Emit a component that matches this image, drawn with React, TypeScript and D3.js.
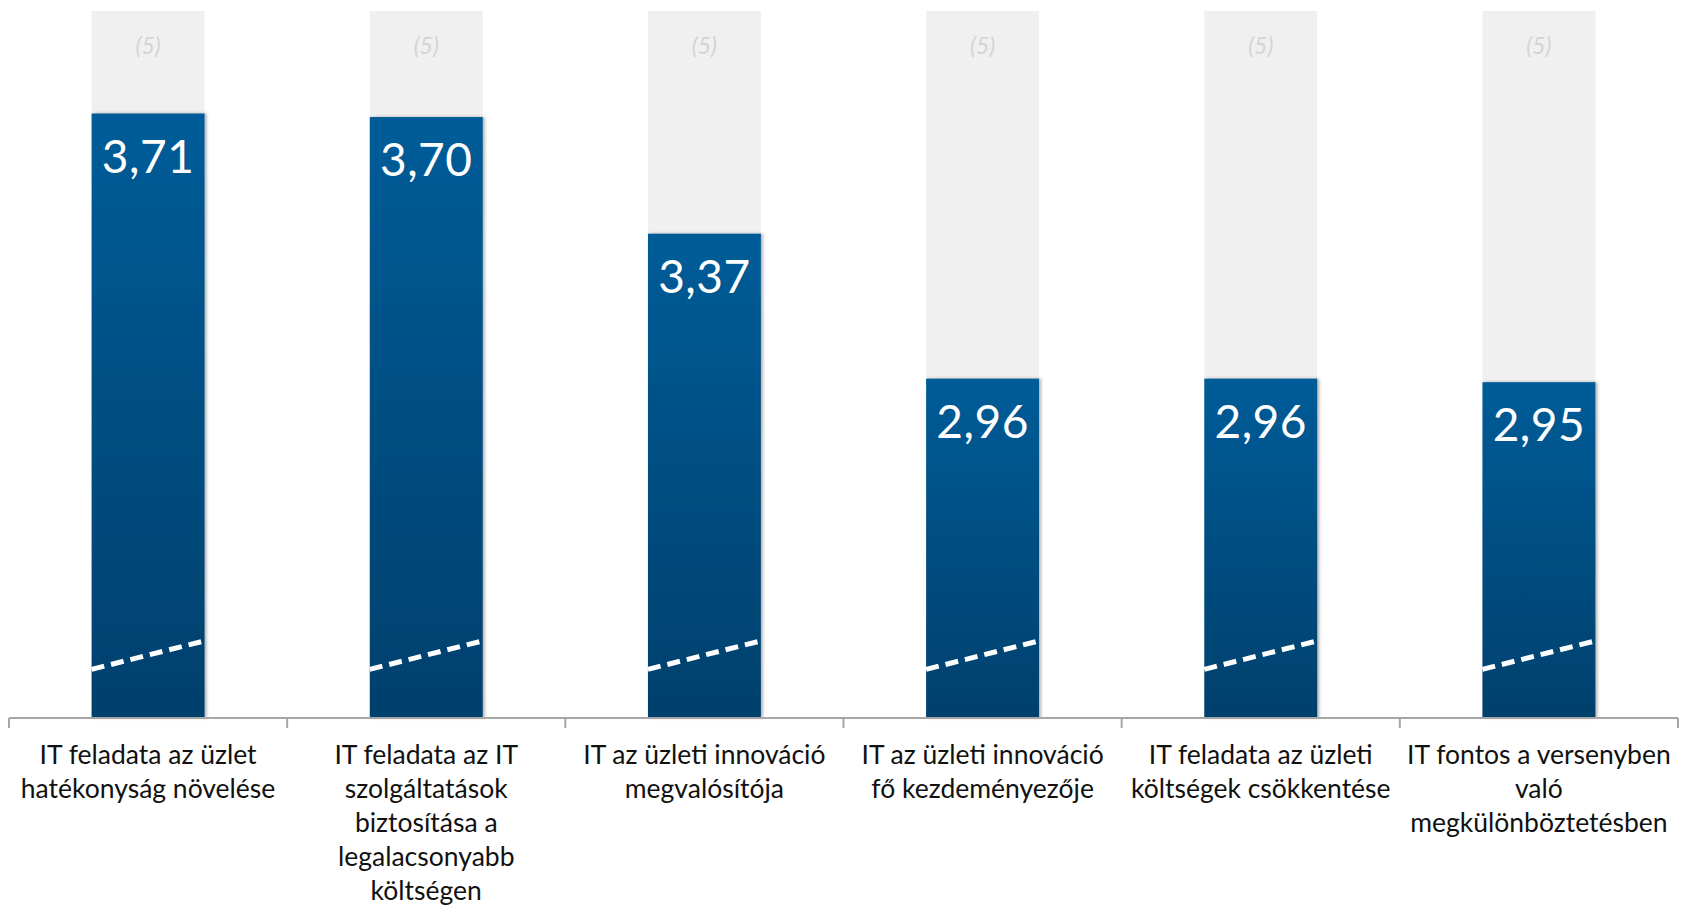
import { useEffect, useRef } from "react";
import * as d3 from "d3";

// category labels, already broken into lines like the original slide
const categories: string[][] = [
  ["IT feladata az üzlet", "hatékonyság növelése"],
  ["IT feladata az IT", "szolgáltatások", "biztosítása a", "legalacsonyabb", "költségen"],
  ["IT az üzleti innováció", "megvalósítója"],
  ["IT az üzleti innováció", "fő kezdeményezője"],
  ["IT feladata az üzleti", "költségek csökkentése"],
  ["IT fontos a versenyben", "való", "megkülönböztetésben"],
];
const values: number[] = [3.71, 3.7, 3.37, 2.96, 2.96, 2.95];
const maxLabel = "(5)";
const maxValue = 5;
// axis is cut: starts at 2, top of the plot shows 4
const yDomain: [number, number] = [2, 4];
const breakValue = 2.18;

const App = () => {
  const svgRef = useRef<SVGSVGElement | null>(null);
  const width = 1681;
  const height = 906;
  const margin = { top: 11, right: 3, bottom: 188, left: 9 };

  useEffect(() => {
    const svg = d3.select(svgRef.current);
    svg.selectAll("*").remove();

    const x = d3
      .scaleBand<number>()
      .domain(values.map((_, i) => i))
      .range([margin.left, width - margin.right])
      .paddingInner(0.594)
      .paddingOuter(0.297);

    const y = d3
      .scaleLinear()
      .domain(yDomain)
      .range([height - margin.bottom, margin.top])
      .clamp(true);

    const defs = svg.append("defs");
    const grad = defs
      .append("linearGradient")
      .attr("id", "barGrad")
      .attr("x1", 0)
      .attr("y1", 0)
      .attr("x2", 0)
      .attr("y2", 1);
    grad.append("stop").attr("offset", "0%").attr("stop-color", "#035c98");
    grad.append("stop").attr("offset", "100%").attr("stop-color", "#00406c");

    const shadow = defs
      .append("filter")
      .attr("id", "shadow")
      .attr("x", "-10%")
      .attr("y", "-10%")
      .attr("width", "130%")
      .attr("height", "130%");
    shadow
      .append("feDropShadow")
      .attr("dx", 2)
      .attr("dy", 0)
      .attr("stdDeviation", 1.5)
      .attr("flood-color", "#000")
      .attr("flood-opacity", 0.3);

    const bw = x.bandwidth();
    const base = y(yDomain[0]);

    // light grey background bars up to the max (5)
    svg
      .append("g")
      .selectAll("rect")
      .data(values)
      .enter()
      .append("rect")
      .attr("x", (_, i) => x(i)!)
      .attr("y", y(maxValue))
      .attr("width", bw)
      .attr("height", base - y(maxValue))
      .attr("fill", "#f0f0f0");

    svg
      .append("g")
      .selectAll("text")
      .data(values)
      .enter()
      .append("text")
      .attr("x", (_, i) => x(i)! + bw / 2)
      .attr("y", y(maxValue) + 43)
      .attr("text-anchor", "middle")
      .attr("font-family", "Lato, sans-serif")
      .attr("font-size", 23)
      .attr("font-style", "italic")
      .attr("fill", "#d4d4d4")
      .text(maxLabel);

    // value bars
    svg
      .append("g")
      .selectAll("rect")
      .data(values)
      .enter()
      .append("rect")
      .attr("x", (_, i) => x(i)!)
      .attr("y", (d) => y(d))
      .attr("width", bw)
      .attr("height", (d) => base - y(d))
      .attr("fill", "url(#barGrad)")
      .attr("filter", "url(#shadow)");

    // axis-break dashes
    svg
      .append("g")
      .selectAll("line")
      .data(values)
      .enter()
      .append("line")
      .attr("x1", (_, i) => x(i)!)
      .attr("x2", (_, i) => x(i)! + bw + 2)
      .attr("y1", y(breakValue) + 15)
      .attr("y2", y(breakValue) - 14)
      .attr("stroke", "#fff")
      .attr("stroke-width", 5)
      .attr("stroke-dasharray", "13,7");

    // value labels
    svg
      .append("g")
      .selectAll("text")
      .data(values)
      .enter()
      .append("text")
      .attr("x", (_, i) => x(i)! + bw / 2)
      .attr("y", (d) => y(d) + 59)
      .attr("text-anchor", "middle")
      .attr("font-family", "Lato, sans-serif")
      .attr("font-size", 46)
      .attr("letter-spacing", 0.5)
      .attr("fill", "#fff")
      .text((d) => d.toFixed(2).replace(".", ","));

    // x axis line and ticks between categories
    const axis = svg.append("g").attr("stroke", "#a6a6a6").attr("stroke-width", 2);
    axis
      .append("line")
      .attr("x1", margin.left)
      .attr("x2", width - margin.right)
      .attr("y1", base)
      .attr("y2", base);
    const tickXs = d3.range(values.length + 1).map((i) => margin.left + i * x.step());
    axis
      .selectAll("line.tick")
      .data(tickXs)
      .enter()
      .append("line")
      .attr("class", "tick")
      .attr("x1", (d) => d)
      .attr("x2", (d) => d)
      .attr("y1", base)
      .attr("y2", base + 10);

    // category labels
    const labels = svg
      .append("g")
      .selectAll("text")
      .data(categories)
      .enter()
      .append("text")
      .attr("x", (_, i) => x(i)! + bw / 2)
      .attr("y", base + 46)
      .attr("text-anchor", "middle")
      .attr("font-family", "Lato, sans-serif")
      .attr("font-size", 26.5)
      .attr("fill", "#111");
    labels
      .selectAll("tspan")
      .data((d) => d)
      .enter()
      .append("tspan")
      .attr("x", function () {
        return (this.parentNode as SVGTextElement).getAttribute("x");
      })
      .attr("dy", (_, j) => (j === 0 ? 0 : 34))
      .text((d) => d);
  }, []);

  return (
    <svg
      ref={svgRef}
      width={width}
      height={height}
      style={{ position: "absolute", left: 0, top: 0 }}
    />
  );
};

export default App;
